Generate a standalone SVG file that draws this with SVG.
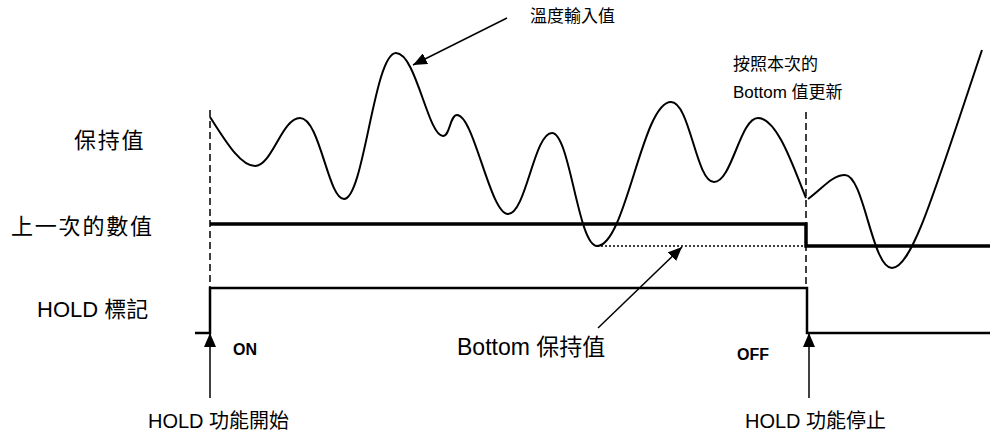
<svg xmlns="http://www.w3.org/2000/svg" width="992" height="434" viewBox="0 0 992 434">
<style>
text{font-family:"Liberation Sans","Noto Sans CJK TC",sans-serif;fill:#000}
.lbl{font-size:22px}
.cj{letter-spacing:1.8px}
.sm{font-size:17px}
.bt{font-size:20px}
.b{font-size:16px;font-weight:bold}
.wave{fill:none;stroke:#000;stroke-width:2}
.dash{fill:none;stroke:#000;stroke-width:1.5;stroke-dasharray:7 4}
.thick{fill:none;stroke:#000;stroke-width:3.5}
.sig{fill:none;stroke:#000;stroke-width:2.5}
.dot{fill:none;stroke:#000;stroke-width:1.5;stroke-dasharray:2 2}
.arr{fill:none;stroke:#000;stroke-width:1.5;marker-end:url(#ah)}
</style>
<defs>
<marker id="ah" viewBox="0 0 14 12" refX="14" refY="6" markerWidth="14" markerHeight="12" markerUnits="userSpaceOnUse" orient="auto">
<path d="M0,0 L14,6 L0,12 z" fill="#000"/>
</marker>
</defs>
<rect width="992" height="434" fill="#fff"/>
<g id="guides">
<line class="dash" x1="210" y1="110" x2="210" y2="288"/>
<line class="dash" x1="806" y1="112" x2="806" y2="288"/>
</g>
<g id="input-wave">
<path class="wave" d="M210,117 C225,140 240,166 255,166 C272,166 282,118 300,118 C320,118 328,199 344,199 C364,199 374,53 396,53 C416,53 428,136 443,136 C450,136 450,115 457,115 C474,115 490,214 508,214 C526,214 534,133 552,133 C570,133 578,246 597,246 C626,246 642,102 671,102 C690,102 696,182 714,182 C732,182 740,118 758,118 C778,118 795,172 806,198"/>
<path class="wave" d="M808,199 C822,189 832,175 845,175 C864,175 872,268 892,268 C912,268 935,190 982,50"/>
</g>
<g id="prev-value">
<polyline class="thick" points="210,224 806,224 806,246 990,246"/>
<line class="dot" x1="597" y1="246" x2="806" y2="246"/>
</g>
<g id="hold-flag">
<polyline class="sig" points="195,333 210,333 210,288 807,288 807,333 990,333"/>
</g>
<g id="connectors">
<line class="arr" x1="507" y1="18" x2="413" y2="65"/>
<line class="arr" x1="598" y1="328" x2="682" y2="247"/>
<line class="arr" x1="210" y1="398" x2="210" y2="333"/>
<line class="arr" x1="809" y1="398" x2="809" y2="333"/>
</g>
<g id="labels">
<text class="lbl cj" x="74" y="148">保持值</text>
<text class="lbl cj" x="11" y="234">上一次的數值</text>
<text class="lbl" x="37" y="317">HOLD 標記</text>
<text class="b" x="233" y="355">ON</text>
<text class="b" x="737" y="360">OFF</text>
<text class="lbl" x="457" y="355" style="font-size:23px">Bottom 保持值</text>
<text class="bt" x="148" y="428">HOLD 功能開始</text>
<text class="bt" x="745" y="428">HOLD 功能停止</text>
<text class="sm" x="530" y="22">溫度輸入值</text>
<text class="sm" x="733" y="70">按照本次的</text>
<text class="sm" x="733" y="98">Bottom 值更新</text>
</g>
</svg>
